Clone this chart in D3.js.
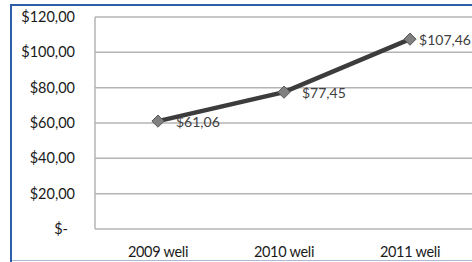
<!DOCTYPE html>
<html>
<head>
<meta charset="utf-8">
<script src="https://cdnjs.cloudflare.com/ajax/libs/d3/7.8.5/d3.min.js"></script>
<style>
  body { margin: 0; background: #fff; }
  svg { display: block; }
</style>
</head>
<body>
<svg id="chart" width="472" height="262"></svg>
<script>
// data
const categories = ["2009 weli", "2010 weli", "2011 weli"]
const values = [61.06, 77.45, 107.46]
const labels = ["$61,06", "$77,45", "$107,46"]
const yTicks = [0, 20, 40, 60, 80, 100, 120]

const fmt = v => v === 0 ? "$-" : "$" + d3.format(".2f")(v).replace(".", ",")

const svg = d3.select("#chart")
const plotL = 95, plotR = 473, plotT = 17, plotB = 229

// outer frame (cut off on the right)
svg.append("rect")
  .attr("x", 11).attr("y", 5).attr("width", 480).attr("height", 255.5)
  .attr("fill", "#fff").attr("stroke", "#a9bcd6").attr("stroke-width", 1)
svg.append("line").attr("x1", 11).attr("x2", 472).attr("y1", 5).attr("y2", 5)
  .attr("stroke", "#2f5ea8").attr("stroke-width", 2)
svg.append("line").attr("x1", 11).attr("x2", 11).attr("y1", 4).attr("y2", 262)
  .attr("stroke", "#2f5ea8").attr("stroke-width", 2)

const x = d3.scaleBand().domain(categories).range([plotL, plotR])
const y = d3.scaleLinear().domain([0, 120]).range([plotB, plotT])
const cx = c => x(c) + x.bandwidth() / 2

// gridlines
svg.append("g").selectAll("line")
  .data(yTicks).enter()
  .append("line")
  .attr("x1", plotL).attr("x2", plotR)
  .attr("y1", d => y(d)).attr("y2", d => y(d))
  .attr("stroke", "#b4b4b4").attr("stroke-width", 1.5)

// y axis line
svg.append("line").attr("x1", plotL).attr("x2", plotL)
  .attr("y1", y(120)).attr("y2", y(0))
  .attr("stroke", "#b4b4b4").attr("stroke-width", 1.5)

// y labels
svg.append("g").selectAll("text")
  .data(yTicks).enter()
  .append("text")
  .attr("x", d => d === 0 ? 68 : 75)
  .attr("y", d => y(d) + 5)
  .attr("text-anchor", "end")
  .attr("font-family", "Lato, sans-serif").attr("font-size", 14.5)
  .attr("fill", "#1a1a1a")
  .text(fmt)

// x labels
svg.append("g").selectAll("text")
  .data(categories).enter()
  .append("text")
  .attr("x", d => cx(d))
  .attr("y", 257)
  .attr("text-anchor", "middle")
  .attr("font-family", "Lato, sans-serif").attr("font-size", 14.5)
  .attr("letter-spacing", -0.3)
  .attr("fill", "#1a1a1a")
  .text(d => d)

const pts = categories.map((c, i) => ({c: c, v: values[i], l: labels[i]}))

// line
svg.append("path")
  .datum(pts)
  .attr("d", d3.line().x(d => cx(d.c)).y(d => y(d.v)))
  .attr("fill", "none").attr("stroke", "#3c3c3c").attr("stroke-width", 4.5)

// diamond markers
svg.append("g").selectAll("path")
  .data(pts).enter()
  .append("path")
  .attr("transform", d => `translate(${cx(d.c)},${y(d.v)})`)
  .attr("d", d3.symbol(d3.symbolDiamond2, 95))
  .attr("fill", "#808080").attr("stroke", "#5a5a5a").attr("stroke-width", 1)

// data labels, to the right of the point, kept inside the chart
svg.append("g").selectAll("text")
  .data(pts).enter()
  .append("text")
  .attr("y", d => y(d.v) + 6)
  .attr("font-family", "Lato, sans-serif").attr("font-size", 14)
  .attr("fill", "#404040")
  .text(d => d.l)
  .attr("x", function(d) {
    const w = this.getComputedTextLength()
    return Math.min(cx(d.c) + 18, 471 - w)
  })
</script>
</body>
</html>
